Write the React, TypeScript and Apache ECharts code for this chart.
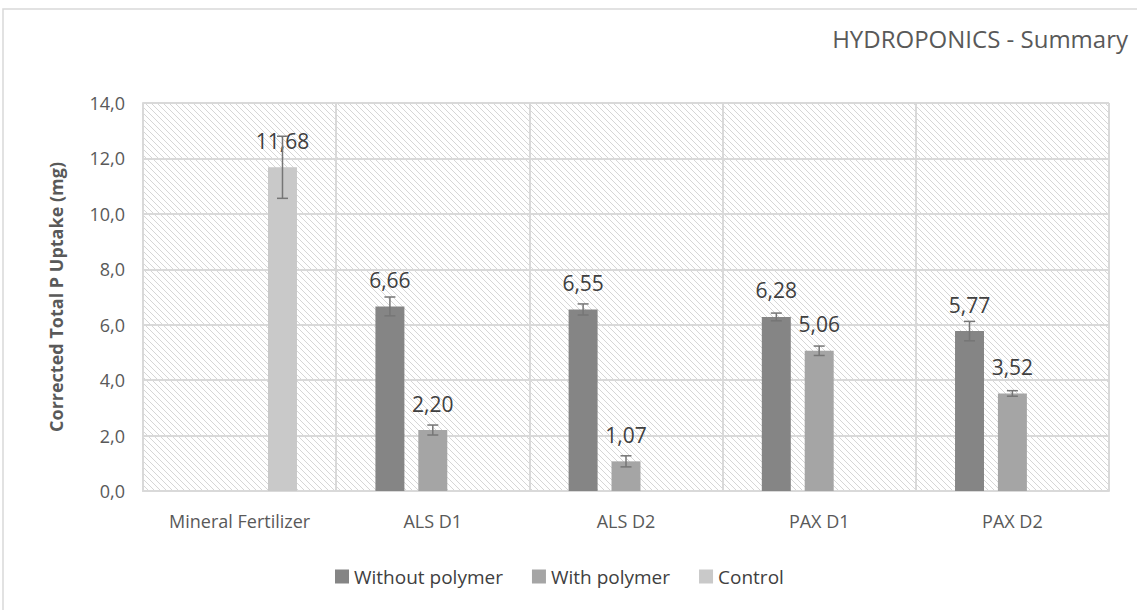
import React, { useEffect, useRef } from "react";
import * as echarts from "echarts";

const categories = ["Mineral Fertilizer", "ALS D1", "ALS D2", "PAX D1", "PAX D2"];
const seriesNames = ["Without polymer", "With polymer", "Control"];
const withoutPolymer = [null, 6.66, 6.55, 6.28, 5.77];
const withPolymer = [null, 2.2, 1.07, 5.06, 3.52];
const control = [11.68, null, null, null, null];
const withoutPolymerErr = [null, 0.34, 0.2, 0.14, 0.35];
const withPolymerErr = [null, 0.18, 0.2, 0.17, 0.1];
const controlErr = [1.12, null, null, null, null];
const colors = ["#858585", "#a5a5a5", "#c9c9c9"];
const yTicks = { min: 0, max: 14, interval: 2 };

const fmt = (v: number) => v.toFixed(2).replace(".", ",");

export default function App() {
  const ref = useRef<HTMLDivElement>(null);
  useEffect(() => {
    if (!ref.current) return;
    const chart = echarts.init(ref.current, undefined, { renderer: "svg" });
    const cv = document.createElement("canvas");
    cv.width = 6;
    cv.height = 6;
    const ctx = cv.getContext("2d")!;
    ctx.fillStyle = "#ffffff";
    ctx.fillRect(0, 0, 6, 6);
    ctx.strokeStyle = "#d6d6d6";
    ctx.lineWidth = 1;
    for (const o of [-6, 0, 6]) {
      ctx.beginPath();
      ctx.moveTo(o - 1, -1);
      ctx.lineTo(o + 7, 7);
      ctx.stroke();
    }
    const patternUrl = cv.toDataURL();

    const values = [withoutPolymer, withPolymer, control];
    const errs = [withoutPolymerErr, withPolymerErr, controlErr];
    const font = "'Open Sans', sans-serif";

    const barSeries = values.map((vals, i) => ({
      name: seriesNames[i],
      type: "bar",
      data: vals,
      barWidth: "15%",
      barGap: "48%",
      itemStyle: { color: colors[i] },
      label: {
        show: true,
        position: "top",
        distance: 16,
        fontSize: 21,
        fontFamily: font,
        color: "#404040",
        formatter: (p: any) => fmt(p.value),
      },
      z: 2,
    }));

    const errSeries = values.map((vals, i) => ({
      name: seriesNames[i] + " err",
      type: "custom",
      data: vals
        .map((v, j) => (v == null ? null : [j, v, errs[i][j]]))
        .filter((d) => d != null),
      renderItem: (params: any, api: any) => {
        const x = api.value(0);
        const v = api.value(1);
        const e = api.value(2);
        const catW = api.size([1, 0])[0];
        const off = (i - 1) * catW * 0.15 * 1.48;
        const top = api.coord([x, v + e]);
        const bot = api.coord([x, v - e]);
        const cx = top[0] + off;
        const half = 5.5;
        const style = { stroke: "#767676", lineWidth: 1.5 };
        return {
          type: "group",
          children: [
            { type: "line", shape: { x1: cx, y1: top[1], x2: cx, y2: bot[1] }, style },
            { type: "line", shape: { x1: cx - half, y1: top[1], x2: cx + half, y2: top[1] }, style },
            { type: "line", shape: { x1: cx - half, y1: bot[1], x2: cx + half, y2: bot[1] }, style },
          ],
        };
      },
      z: 3,
      silent: true,
    }));

    chart.setOption({
      animation: false,
      backgroundColor: "#ffffff",
      title: {
        text: "HYDROPONICS - Summary",
        right: 4,
        top: 21,
        textStyle: { fontSize: 24, fontWeight: "normal", color: "#595959", fontFamily: font },
      },
      legend: {
        data: seriesNames,
        bottom: 19,
        left: 330,
        itemWidth: 14,
        itemHeight: 14,
        itemGap: 29,
        icon: "rect",
        textStyle: { fontSize: 19, color: "#404040", fontFamily: font },
      },
      grid: {
        left: 143,
        right: 28,
        top: 103,
        bottom: 119,
        show: true,
        borderWidth: 0,
        backgroundColor: { image: patternUrl, repeat: "repeat" },
      },
      xAxis: {
        type: "category",
        data: categories,
        axisTick: { show: false },
        axisLine: { show: true, lineStyle: { color: "#d9d9d9", width: 2 } },
        axisLabel: { fontSize: 18, color: "#595959", fontFamily: font, margin: 21 },
        splitLine: { show: true, lineStyle: { color: "#d9d9d9", width: 2 } },
      },
      yAxis: {
        type: "value",
        min: yTicks.min,
        max: yTicks.max,
        interval: yTicks.interval,
        name: "Corrected Total P Uptake (mg)",
        nameLocation: "middle",
        nameGap: 78,
        nameTextStyle: { fontSize: 18, fontWeight: "bold", color: "#595959", fontFamily: font },
        axisLine: { show: true, lineStyle: { color: "#d9d9d9", width: 2 } },
        axisTick: { show: false },
        axisLabel: {
          fontSize: 18,
          color: "#595959",
          fontFamily: font,
          margin: 18,
          formatter: (v: number) => v.toFixed(1).replace(".", ","),
        },
        splitLine: { show: true, lineStyle: { color: "#d9d9d9", width: 2 } },
      },
      graphic: [
        {
          type: "rect",
          shape: { x: 3, y: 9, width: 1150, height: 620 },
          style: { fill: "none", stroke: "#d9d9d9", lineWidth: 1.5 },
          silent: true,
          z: -1,
        },
      ],
      series: [...barSeries, ...errSeries],
    });
    return () => chart.dispose();
  }, []);
  return (
    <div
      ref={ref}
      style={{ position: "absolute", left: 0, top: 0, width: 1137, height: 610 }}
    />
  );
}
